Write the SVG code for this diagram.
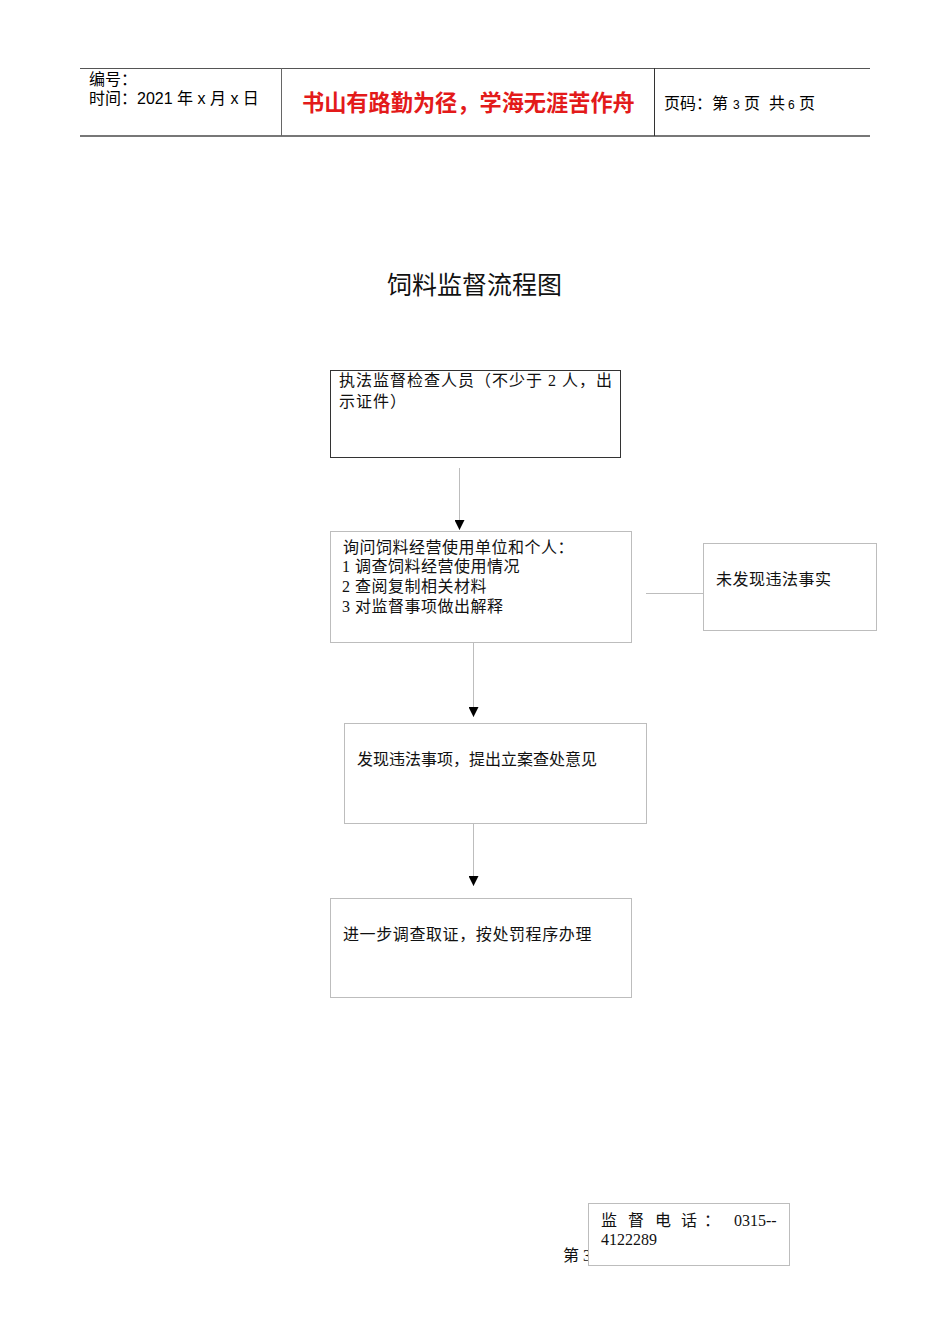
<svg xmlns="http://www.w3.org/2000/svg" width="950" height="1344" viewBox="0 0 950 1344">
<style>
.hd{font-family:"Liberation Sans","Noto Sans CJK SC",sans-serif;font-size:16px;fill:#000}
.bx{font-family:"Liberation Serif","Noto Sans CJK SC",serif;font-size:16px;fill:#111}
.nb{fill:#fff;stroke:#bdbdbd;stroke-width:1}
.conn{stroke:#bdbdbd;stroke-width:1;fill:none}
</style>
<defs>
<marker id="ah" markerWidth="10" markerHeight="10" refX="10" refY="5" orient="auto" markerUnits="userSpaceOnUse" viewBox="0 0 10 10">
<path d="M0,0 L10,5 L0,10 Z" fill="#000"/>
</marker>
</defs>
<rect width="950" height="1344" fill="#fff"/>
<g id="header">
<line x1="80" y1="68.5" x2="870" y2="68.5" stroke="#555" stroke-width="1"/>
<line x1="80" y1="136" x2="870" y2="136" stroke="#777" stroke-width="2"/>
<line x1="281.5" y1="68" x2="281.5" y2="136" stroke="#666" stroke-width="1"/>
<line x1="654.5" y1="68" x2="654.5" y2="136" stroke="#333" stroke-width="1"/>
<text class="hd" x="89" y="85">编号：</text>
<text class="hd" x="89" y="104">时间：2021 年 x 月 x 日</text>
<text x="302" y="111" font-family="Noto Sans CJK SC,sans-serif" font-size="22.2" font-weight="bold" fill="#e31a1a">书山有路勤为径，学海无涯苦作舟</text>
<text class="hd" y="109"><tspan x="664">页码：第</tspan><tspan x="733" font-size="12">3</tspan><tspan x="744">页</tspan><tspan x="769">共</tspan><tspan x="788" font-size="12">6</tspan><tspan x="799">页</tspan></text>
</g>
<text id="title" x="387" y="294" font-family="Noto Sans CJK SC,sans-serif" font-size="25" fill="#111">饲料监督流程图</text>
<g id="connectors">
<line class="conn" x1="459.5" y1="468" x2="459.5" y2="530" marker-end="url(#ah)"/>
<line class="conn" x1="473.5" y1="643" x2="473.5" y2="717" marker-end="url(#ah)"/>
<line class="conn" x1="473.5" y1="824" x2="473.5" y2="886" marker-end="url(#ah)"/>
<line class="conn" x1="646" y1="593.5" x2="703" y2="593.5"/>
</g>
<g id="n1">
<rect x="330.5" y="370.5" width="290" height="87" fill="#fff" stroke="#333" stroke-width="1"/>
<text class="bx" x="339" y="386" letter-spacing="1">执法监督检查人员（不少于 2 人，出</text>
<text class="bx" x="339" y="407" letter-spacing="1">示证件）</text>
</g>
<g id="n2">
<rect class="nb" x="330.5" y="531.5" width="301" height="111"/>
<text class="bx" x="343" y="553" letter-spacing="0.5">询问饲料经营使用单位和个人：</text>
<text class="bx" x="342" y="572" letter-spacing="0.5">1<tspan x="355">调查饲料经营使用情况</tspan></text>
<text class="bx" x="342" y="592" letter-spacing="0.5">2<tspan x="355">查阅复制相关材料</tspan></text>
<text class="bx" x="342" y="612" letter-spacing="0.5">3<tspan x="355">对监督事项做出解释</tspan></text>
</g>
<g id="n3">
<rect class="nb" x="703.5" y="543.5" width="173" height="87"/>
<text class="bx" x="716" y="585" letter-spacing="0.5">未发现违法事实</text>
</g>
<g id="n4">
<rect class="nb" x="344.5" y="723.5" width="302" height="100"/>
<text class="bx" x="357" y="765">发现违法事项，提出立案查处意见</text>
</g>
<g id="n5">
<rect class="nb" x="330.5" y="898.5" width="301" height="99"/>
<text class="bx" x="343" y="940" letter-spacing="0.6">进一步调查取证，按处罚程序办理</text>
</g>
<g id="footer">
<text class="bx" x="563" y="1261" font-size="14">第 3</text>
<rect class="nb" x="588.5" y="1203.5" width="201" height="62"/>
<text class="bx" y="1226"><tspan x="601">监</tspan><tspan x="628">督</tspan><tspan x="655">电</tspan><tspan x="681">话</tspan><tspan x="704">：</tspan><tspan x="734">0315--</tspan></text>
<text class="bx" x="601" y="1245">4122289</text>
</g>
</svg>
